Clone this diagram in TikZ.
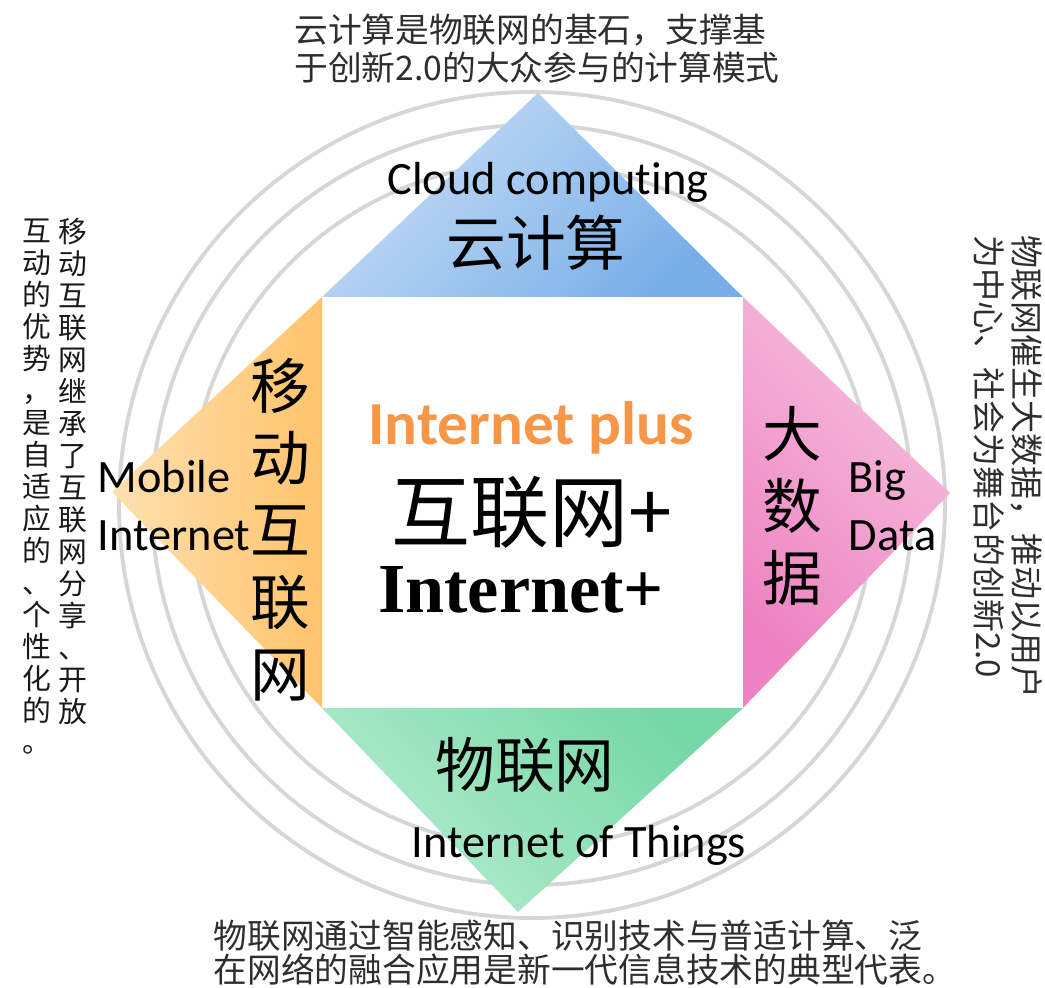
\documentclass[tikz,border=0pt]{standalone}
\usepackage{fontspec}
\setmainfont{Carlito}[Ligatures=CommonOff]
\newfontfamily\cjk{Noto Sans CJK SC}
\newfontfamily\tnr{Liberation Serif}
\usepackage{xcolor}
\usepackage{tikz}
\usetikzlibrary{positioning, calc}

\definecolor{cloudL}{HTML}{C8DEF6}
\definecolor{cloudD}{HTML}{78AEE8}
\definecolor{mobileL}{HTML}{FFE0B0}
\definecolor{mobileD}{HTML}{FFC36C}
\definecolor{dataL}{HTML}{F6C0DE}
\definecolor{dataD}{HTML}{EE82C2}
\definecolor{iotL}{HTML}{B4ECCE}
\definecolor{iotD}{HTML}{76D8A6}
\definecolor{plusorange}{HTML}{F79646}

\begin{document}
\begin{tikzpicture}[
    ring/.style={draw=black!16, line width=1.1pt},
    enlabel/.style={font=\fontsize{13.2}{16.5}\selectfont, align=left, inner sep=0pt},
    cnlabel/.style={font=\cjk\fontsize{17}{20.5}\selectfont, align=center, inner sep=0pt},
    note/.style={font=\cjk\fontsize{9.6}{10.8}\selectfont, text=black!82, align=left, inner sep=0pt},
    vnote/.style={font=\cjk\fontsize{8.2}{9.1}\selectfont, text=black!90, align=center, inner sep=0pt, anchor=north}
]
\useasboundingbox (0, 0) rectangle (10.45, 9.88);

% square and tips
\coordinate (sqnw) at (3.22, 6.91);
\coordinate (sqne) at (7.43, 6.91);
\coordinate (sqsw) at (3.22, 2.80);
\coordinate (sqse) at (7.43, 2.80);
\coordinate (cloudtip) at (5.38, 8.95);
\coordinate (datatip) at (9.50, 4.95);
\coordinate (iottip) at (5.18, 0.76);
\coordinate (mobiletip) at (1.12, 4.96);
\coordinate (ctr) at (5.32, 4.83);

% rings
\draw[ring] (ctr) circle (4.13);
\draw[ring] (ctr) circle (3.80);
\draw[ring] (ctr) circle (3.42);

% triangles
\shade[top color=cloudL, bottom color=cloudD, shading angle=45] (sqnw) -- (cloudtip) -- (sqne) -- cycle;
\shade[left color=mobileL, right color=mobileD] (sqnw) -- (mobiletip) -- (sqsw) -- cycle;
\shade[top color=dataL, bottom color=dataD, shading angle=-45] (sqne) -- (datatip) -- (sqse) -- cycle;
\shade[top color=iotD, bottom color=iotL, shading angle=-45] (sqsw) -- (iottip) -- (sqse) -- cycle;

% Cloud computing
\node[enlabel] (cloudname) at (5.48, 8.06) {Cloud computing};
\node[cnlabel] (cloudcn) at (5.36, 7.45) {云计算};
\node[note] (cloudnote) at (5.37, 9.39) {云计算是物联网的基石，支撑基\\于创新2.0的大众参与的计算模式};

% Mobile Internet
\node[cnlabel] (mobilecn) at (2.80, 4.58) {移\\动\\互\\联\\网};
\node[enlabel, anchor=west] (mobilename) at (0.97, 4.82) {Mobile\\Internet};
\node[vnote] (mobilenoteA) at (0.73, 7.70) {移\\动\\互\\联\\网\\继\\承\\了\\互\\联\\网\\分\\享\\、\\开\\放};
\node[vnote] (mobilenoteB) at (0.37, 7.70) {互\\动\\的\\优\\势\\，\\是\\自\\适\\应\\的\\、\\个\\性\\化\\的\\。};

% Big Data
\node[cnlabel] (datacn) at (7.92, 4.82) {大\\数\\据};
\node[enlabel, anchor=west] (dataname) at (8.48, 4.82) {Big\\Data};
\node[note, rotate=-90, anchor=north west, font=\cjk\fontsize{9.4}{10.8}\selectfont] (datanote) at (10.43, 7.53) {物联网催生大数据，推动以用户\\为中心、社会为舞台的创新2.0};

% Internet of Things
\node[cnlabel] (iotcn) at (5.25, 2.23) {物联网};
\node[enlabel] (iotname) at (5.79, 1.43) {Internet of Things};
\node[note, anchor=west, font=\cjk\fontsize{9.6}{9.6}\selectfont] (iotnote) at (2.13, 0.35) {物联网通过智能感知、识别技术与普适计算、泛\\在网络的融合应用是新一代信息技术的典型代表。};

% centre
\node[font=\bfseries\fontsize{17.4}{20}\selectfont, text=plusorange, inner sep=0pt] (plusname) at (5.31, 5.60) {Internet plus};
\node[font=\cjk\fontsize{22.5}{26}\selectfont, inner sep=0pt] (pluscn) at (5.32, 4.76) {互联网+};
\node[font=\tnr\bfseries\fontsize{20}{24}\selectfont, inner sep=0pt] (plusen) at (5.21, 3.98) {Internet+};

\end{tikzpicture}
\end{document}
